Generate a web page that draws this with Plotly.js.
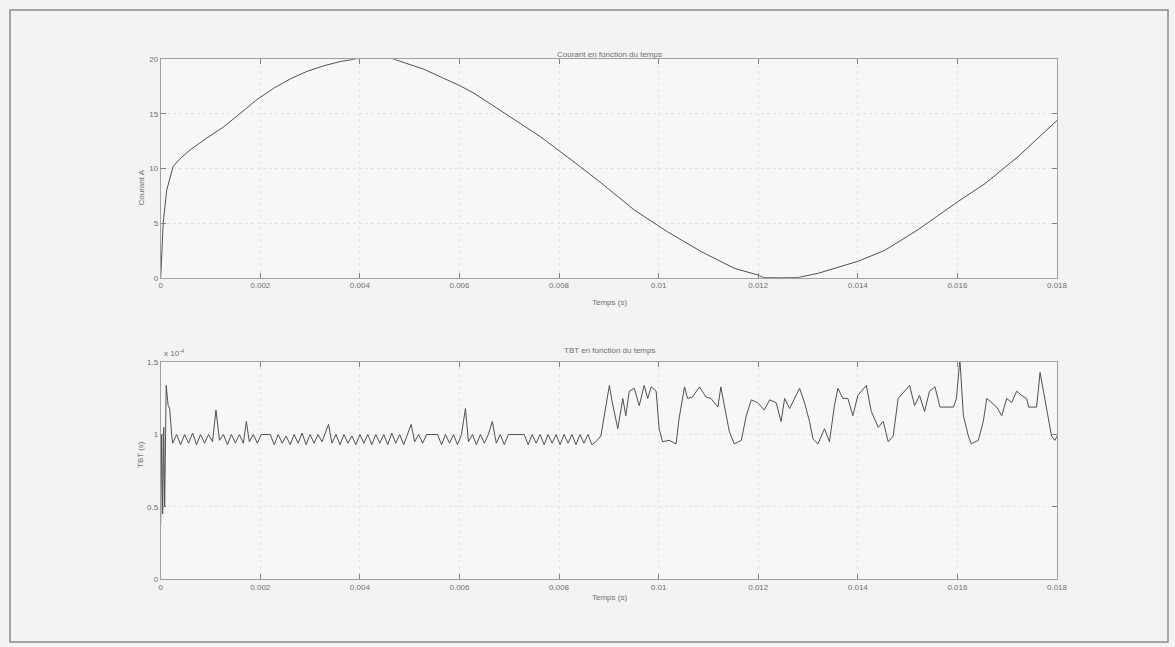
<!DOCTYPE html>
<html>
<head>
<meta charset="utf-8">
<script src="https://cdn.plot.ly/plotly-3.0.1.min.js"></script>
<style>
html,body{margin:0;padding:0;background:#f3f3f3;}
#chart{width:1175px;height:647px;}
</style>
</head>
<body>
<div id="chart"></div>
<script>
// Courant (A) en fonction du temps (s)
const courant_t = [0, 0.00002, 0.00005, 0.00012, 0.00025, 0.00039, 0.00059, 0.00093, 0.00126, 0.0016, 0.00193, 0.00227, 0.0026, 0.00294, 0.00327, 0.00361, 0.00388, 0.0041, 0.0043, 0.0045, 0.00468, 0.00495, 0.00528, 0.00562, 0.006, 0.00629, 0.00696, 0.00763, 0.0083, 0.00884, 0.00951, 0.01018, 0.01085, 0.01152, 0.01199, 0.0121, 0.0125, 0.0128, 0.0132, 0.014, 0.01454, 0.01521, 0.01602, 0.01655, 0.01722, 0.018];
const courant_v = [0, 1.6, 5.0, 8.0, 10.2, 10.9, 11.7, 12.8, 13.8, 15.05, 16.3, 17.35, 18.2, 18.9, 19.4, 19.8, 20.0, 20.3, 20.4, 20.3, 20.0, 19.6, 19.1, 18.4, 17.6, 16.9, 14.9, 12.9, 10.6, 8.7, 6.2, 4.2, 2.4, 0.86, 0.25, 0.02, 0.0, 0.02, 0.4, 1.5, 2.5, 4.4, 7.0, 8.6, 11.1, 14.4];

// TBT (x 1e-4 s) en fonction du temps (s)
const tbt_t = [0, 0.00002, 0.00004, 0.00006, 0.00008, 0.0001, 0.00011, 0.00015, 0.00018, 0.00022,
  0.00024, 0.00032, 0.0004, 0.00048, 0.00056, 0.00064, 0.00072, 0.0008, 0.00088, 0.00096,
  0.00104, 0.00111, 0.00118, 0.00126, 0.00134, 0.00142, 0.0015, 0.00158, 0.00166, 0.00172,
  0.00178, 0.00186, 0.00194, 0.00202, 0.0021, 0.0022, 0.00228, 0.00236, 0.00244, 0.00252,
  0.0026, 0.00268, 0.00276, 0.00284, 0.00292, 0.003, 0.00308, 0.00316, 0.00324, 0.00337,
  0.00344, 0.00352, 0.0036, 0.00368, 0.00376, 0.00384, 0.00392, 0.004, 0.00408, 0.00416,
  0.00424, 0.00432, 0.0044, 0.00448, 0.00456, 0.00464, 0.00472, 0.0048, 0.00488, 0.00496,
  0.00503, 0.0051, 0.00518, 0.00526, 0.00534, 0.00542, 0.00556, 0.00564, 0.00572, 0.0058,
  0.00588, 0.00596, 0.00604, 0.00612, 0.00618, 0.00626, 0.00634, 0.00642, 0.0065, 0.00658,
  0.00666, 0.00674, 0.00682, 0.0069, 0.00698, 0.00706, 0.0073, 0.00738, 0.00746, 0.00754,
  0.00762, 0.0077, 0.00778, 0.00786, 0.00794, 0.00802, 0.0081, 0.00818, 0.00826, 0.00834,
  0.00842, 0.0085, 0.00858, 0.00866, 0.00874,
  0.00884, 0.00894, 0.00901, 0.00907, 0.00918, 0.00928, 0.00934, 0.00941, 0.00951, 0.00961,
  0.00971, 0.00978, 0.00985, 0.00995, 0.01001, 0.01008, 0.01021, 0.01035, 0.01041, 0.01052,
  0.01058, 0.01068, 0.01082, 0.01095, 0.01105, 0.01119, 0.01125, 0.01132, 0.01142, 0.01152,
  0.01166, 0.01176, 0.01186, 0.01199, 0.01212, 0.01223, 0.01236, 0.01246, 0.01253, 0.01263,
  0.01273, 0.01283, 0.01293, 0.01303, 0.0131, 0.0132, 0.01333, 0.01343, 0.01353, 0.0136,
  0.0137, 0.0138, 0.0139, 0.014, 0.01417, 0.01427, 0.01441, 0.01451, 0.01461, 0.01471,
  0.01481, 0.01494, 0.01504, 0.01514, 0.01524, 0.01534, 0.01544, 0.01555, 0.01565, 0.01592,
  0.01598, 0.01605, 0.01612, 0.01622, 0.01628, 0.01642, 0.01652, 0.01659, 0.01669, 0.01679,
  0.01689, 0.01699, 0.01709, 0.01719, 0.01729, 0.01739, 0.01743, 0.01759, 0.01766, 0.01773,
  0.01779, 0.01789, 0.01796, 0.018];
const tbt_e4 = [0.38, 1.0, 0.45, 1.05, 0.5, 1.2, 1.34, 1.2, 1.18, 1.0,
  0.94, 1.0, 0.93, 1.0, 0.94, 1.01, 0.93, 1.0, 0.94, 1.0,
  0.95, 1.17, 0.96, 1.0, 0.93, 1.0, 0.94, 1.0, 0.94, 1.09,
  0.95, 1.0, 0.94, 1.0, 1.0, 1.0, 0.93, 1.0, 0.94, 0.99,
  0.93, 1.0, 0.94, 1.01, 0.93, 1.0, 0.94, 1.0, 0.95, 1.07,
  0.94, 1.0, 0.93, 1.0, 0.94, 0.99, 0.93, 1.0, 0.94, 1.0,
  0.93, 1.0, 0.94, 1.0, 0.93, 1.01, 0.94, 1.0, 0.93, 1.0,
  1.07, 0.95, 1.0, 0.94, 1.0, 1.0, 1.0, 0.93, 1.0, 0.94,
  1.0, 0.93, 1.0, 1.18, 0.95, 1.0, 0.93, 1.0, 0.94, 1.0,
  1.09, 0.94, 1.0, 0.93, 1.0, 1.0, 1.0, 0.93, 1.0, 0.94,
  1.0, 0.93, 1.0, 0.94, 1.0, 0.93, 1.0, 0.94, 1.0, 0.93,
  1.0, 0.94, 1.0, 0.93, 0.95,
  0.99, 1.18, 1.34, 1.22, 1.04, 1.25, 1.13, 1.30, 1.32, 1.20,
  1.34, 1.25, 1.33, 1.30, 1.04, 0.95, 0.96, 0.935, 1.11, 1.33,
  1.25, 1.26, 1.33, 1.26, 1.25, 1.19, 1.33, 1.20, 1.02, 0.935,
  0.96, 1.13, 1.24, 1.22, 1.17, 1.24, 1.22, 1.09, 1.25, 1.18,
  1.25, 1.32, 1.22, 1.09, 0.97, 0.935, 1.04, 0.95, 1.20, 1.32,
  1.25, 1.25, 1.13, 1.27, 1.34, 1.16, 1.05, 1.09, 0.95, 0.99,
  1.25, 1.30, 1.34, 1.20, 1.27, 1.16, 1.30, 1.33, 1.19, 1.19,
  1.25, 1.52, 1.13, 0.99, 0.935, 0.96, 1.09, 1.25, 1.22, 1.19,
  1.13, 1.25, 1.22, 1.30, 1.27, 1.25, 1.19, 1.19, 1.43, 1.30,
  1.20, 0.99, 0.96, 0.99];

const W = 1175, H = 647;
const px = v => v / W;
const py = v => 1 - v / H;

const lineStyle = {color: '#505050', width: 1};
const tickFont = {family: 'Liberation Sans, Arial, sans-serif', size: 8, color: '#707070'};

function xaxisCfg(anchor) {
  return {
    domain: [px(160.7), px(1057)],
    range: [0, 0.018], dtick: 0.002, tick0: 0,
    anchor: anchor,
    showline: true, linecolor: '#a0a0a0', linewidth: 1, mirror: 'allticks',
    ticks: 'inside', ticklen: 5, tickcolor: '#808080',
    showgrid: true, gridcolor: '#e4e4e4', griddash: 'dot', gridwidth: 1,
    zeroline: false, tickfont: tickFont
  };
}
function yaxisCfg(anchor, dom, range, dtick) {
  return {
    domain: dom, range: range, dtick: dtick, tick0: 0, anchor: anchor,
    showline: true, linecolor: '#a0a0a0', linewidth: 1, mirror: 'allticks',
    ticks: 'inside', ticklen: 5, tickcolor: '#808080',
    showgrid: true, gridcolor: '#e4e4e4', griddash: 'dot', gridwidth: 1,
    zeroline: false, tickfont: tickFont
  };
}

const traces = [
  {x: courant_t, y: courant_v, type: 'scatter', mode: 'lines', line: lineStyle, xaxis: 'x', yaxis: 'y', hoverinfo: 'none'},
  {x: tbt_t, y: tbt_e4, type: 'scatter', mode: 'lines', line: lineStyle, xaxis: 'x2', yaxis: 'y2', hoverinfo: 'none'}
];

const annFont = {family: 'Liberation Sans, Arial, sans-serif', size: 8, color: '#707070'};
const layout = {
  width: W, height: H,
  margin: {l: 0, r: 0, t: 0, b: 0},
  paper_bgcolor: '#f3f3f3', plot_bgcolor: '#f7f7f7',
  showlegend: false,
  xaxis: xaxisCfg('y'),
  yaxis: yaxisCfg('x', [py(277.7), py(59.3)], [0, 20], 5),
  xaxis2: xaxisCfg('y2'),
  yaxis2: yaxisCfg('x2', [py(579), py(362.3)], [0, 1.5], 0.5),
  annotations: [
    {text: 'Courant en fonction du temps', x: px(609), y: py(48), xref: 'paper', yref: 'paper', showarrow: false, font: annFont},
    {text: 'Temps (s)', x: px(609), y: py(302), xref: 'paper', yref: 'paper', showarrow: false, font: annFont},
    {text: 'Courant A', x: px(134), y: py(168), xref: 'paper', yref: 'paper', showarrow: false, textangle: -90, font: annFont},
    {text: 'TBT en fonction du temps', x: px(609), y: py(350), xref: 'paper', yref: 'paper', showarrow: false, font: annFont},
    {text: 'Temps (s)', x: px(609), y: py(604), xref: 'paper', yref: 'paper', showarrow: false, font: annFont},
    {text: 'TBT (s)', x: px(134), y: py(470), xref: 'paper', yref: 'paper', showarrow: false, textangle: -90, font: annFont},
    {text: 'x 10<sup>-4</sup>', x: px(162), y: py(353), xref: 'paper', yref: 'paper', xanchor: 'left', showarrow: false, font: annFont}
  ],
  shapes: [
    {type: 'rect', xref: 'paper', yref: 'paper', x0: px(10), x1: px(1168), y0: py(642), y1: py(10), line: {color: '#8a8a8a', width: 1.5}, layer: 'below'}
  ]
};

Plotly.newPlot('chart', traces, layout, {staticPlot: true, displayModeBar: false});
</script>
</body>
</html>
